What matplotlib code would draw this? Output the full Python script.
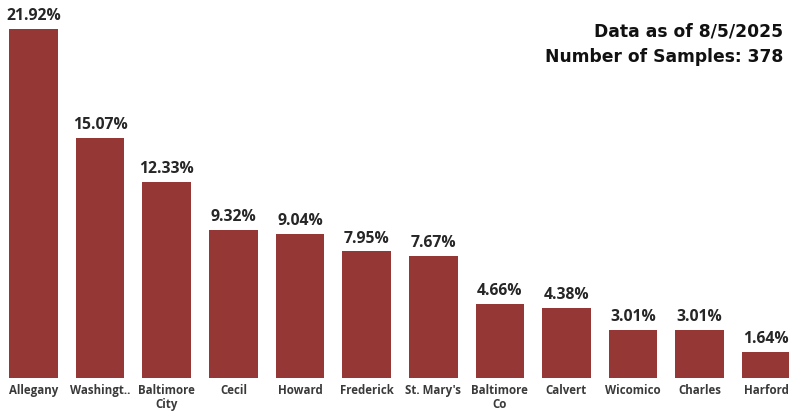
import matplotlib.pyplot as plt

counties = ['Allegany', 'Washingt..', 'Baltimore\nCity', 'Cecil', 'Howard', 'Frederick',
            "St. Mary's", 'Baltimore\nCo', 'Calvert', 'Wicomico', 'Charles', 'Harford']
percents = [21.92, 15.07, 12.33, 9.32, 9.04, 7.95, 7.67, 4.66, 4.38, 3.01, 3.01, 1.64]

fig = plt.figure(figsize=(7.89, 4.11), dpi=100)
ax = fig.add_axes([0, 33 / 411, 1, 378 / 411])

x = range(len(counties))
bars = ax.bar(x, percents, width=0.73, color='#953735')

for b, v in zip(bars, percents):
    ax.text(b.get_x() + b.get_width() / 2, v + 0.3, f'{v:.2f}%', ha='center', va='bottom',
            fontsize=11.3, fontweight='bold', color='#262626', family='Open Sans')

ax.set_xlim(-0.503, 11.34)
ax.set_ylim(0, 23.74)
ax.set_xticks(list(x))
ax.set_xticklabels(counties, fontsize=8.3, fontweight='bold', color='#3a3a3a',
                   family='Open Sans', linespacing=1.15)
ax.tick_params(axis='x', length=0, pad=4)
ax.set_yticks([])
for s in ax.spines.values():
    s.set_visible(False)

fig.text(783 / 789, 1 - 31 / 411, 'Data as of 8/5/2025', ha='right', va='center',
         fontsize=12.3, fontweight='bold', color='#111111', family='DejaVu Sans')
fig.text(783 / 789, 1 - 57 / 411, 'Number of Samples: 378', ha='right', va='center',
         fontsize=12.3, fontweight='bold', color='#111111', family='DejaVu Sans')

fig.savefig('out.png', dpi=100)
